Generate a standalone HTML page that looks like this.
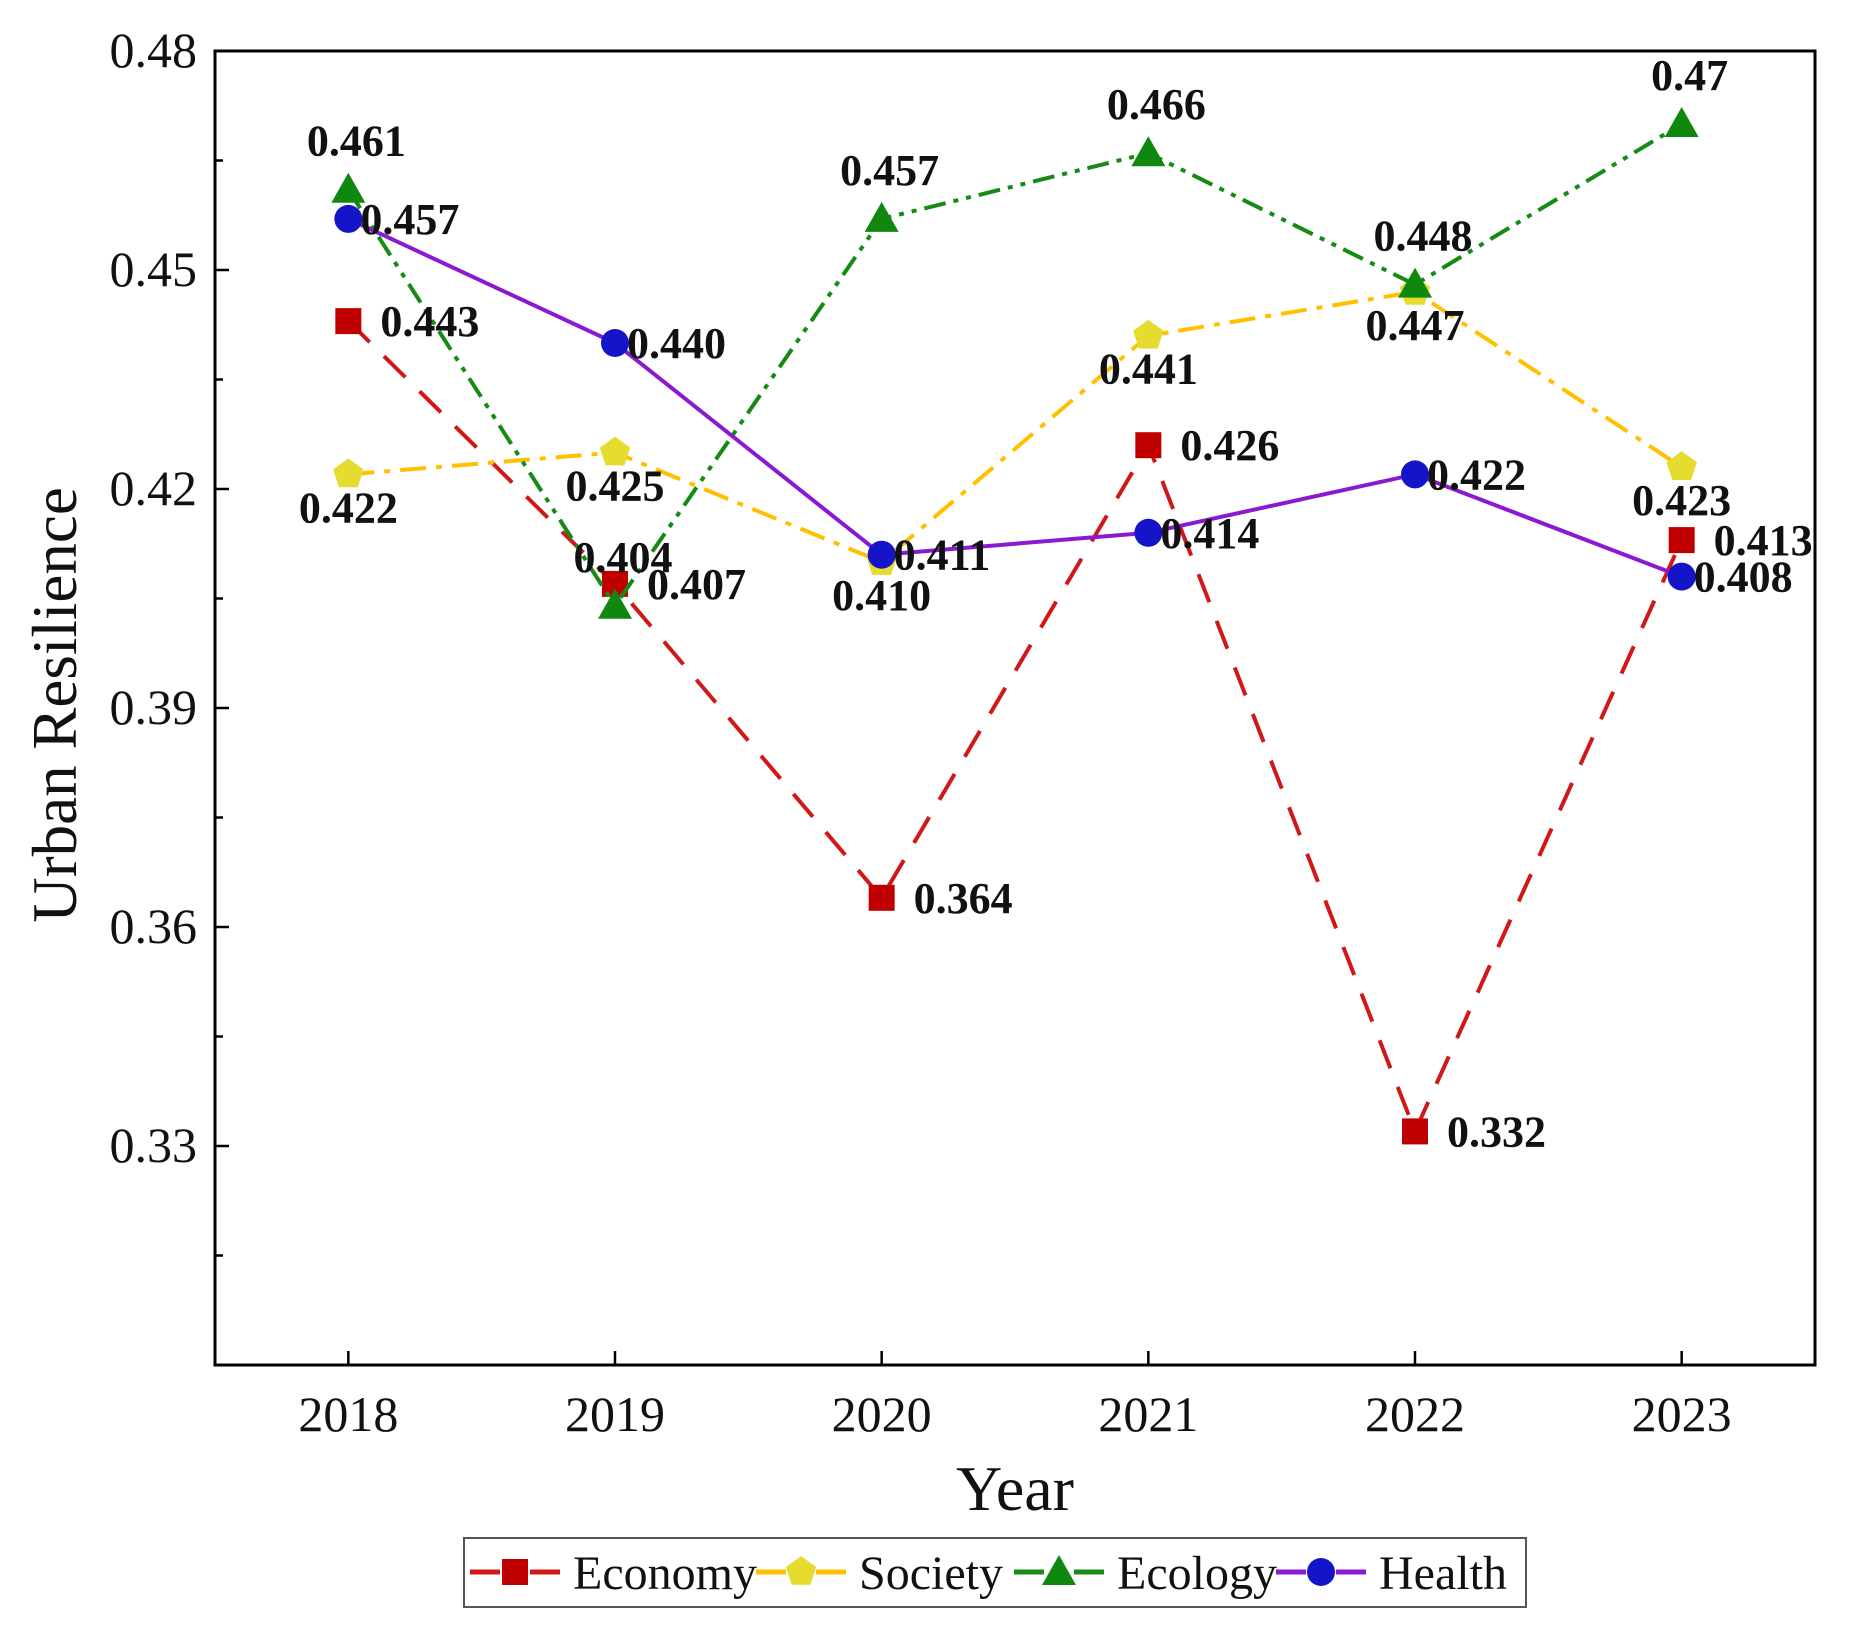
<!DOCTYPE html>
<html><head><meta charset="utf-8"><style>
html,body{margin:0;padding:0;background:#fff;}
svg{display:block;font-family:"Liberation Serif",serif;}
</style></head><body>
<svg id="chart" width="1864" height="1642" viewBox="0 0 1864 1642" xmlns="http://www.w3.org/2000/svg"></svg>
<script>
const years = ["2018","2019","2020","2021","2022","2023"];
const economy = [0.443,0.407,0.364,0.426,0.332,0.413];
const society = [0.422,0.425,0.410,0.441,0.447,0.423];
const ecology = [0.461,0.404,0.457,0.466,0.448,0.47];
const health = [0.457,0.440,0.411,0.414,0.422,0.408];
const economyLabels = ["0.443","0.407","0.364","0.426","0.332","0.413"];
const societyLabels = ["0.422","0.425","0.410","0.441","0.447","0.423"];
const ecologyLabels = ["0.461","0.404","0.457","0.466","0.448","0.47"];
const healthLabels = ["0.457","0.440","0.411","0.414","0.422","0.408"];
const yTicks = [0.33,0.36,0.39,0.42,0.45,0.48];
const yTickLabels = ["0.33","0.36","0.39","0.42","0.45","0.48"];

const svg = document.getElementById('chart');
const NS = 'http://www.w3.org/2000/svg';
const L=215, R=1815, T=51, B=1365;
const yMin=0.30, yMax=0.48;
function xs(i){ return L + (i+0.5)*(R-L)/years.length; }
function ys(v){ return B - (v-yMin)/(yMax-yMin)*(B-T); }
function mk(tag, attrs, parent){ const e=document.createElementNS(NS,tag); for(const k in attrs) e.setAttribute(k,attrs[k]); (parent||svg).appendChild(e); return e; }

const frame = mk('rect',{x:L,y:T,width:R-L,height:B-T,fill:'none',stroke:'#000','stroke-width':3});



for(let v=0.315; v<0.48; v+=0.015){
  const major = Math.abs(((v-0.33)/0.03) - Math.round((v-0.33)/0.03))<0.01;
  const t = mk('line',{x1:L,x2:L+(major?14:8),y1:ys(v),y2:ys(v),stroke:'#000','stroke-width':2.5});
  
  
}
yTicks.forEach((v,i)=>{
  const t = mk('text',{x:L-18,y:ys(v)+16,'text-anchor':'end','font-size':50,fill:'#111'});
  t.textContent = yTickLabels[i];
  
  
});
years.forEach((yr,i)=>{
  const t = mk('line',{x1:xs(i),x2:xs(i),y1:B,y2:B-14,stroke:'#000','stroke-width':2.5});
  
  
  const l = mk('text',{x:xs(i),y:B+66,'text-anchor':'middle','font-size':50,fill:'#111'});
  l.textContent = yr;
  
  
});
const yt = mk('text',{x:0,y:0,transform:`translate(76,705) rotate(-90)`,'text-anchor':'middle','font-size':63,fill:'#111'});
yt.textContent='Urban Resilience';


const xt = mk('text',{x:1015,y:1510,'text-anchor':'middle','font-size':64,fill:'#111'});
xt.textContent='Year';



function marker(type,cx,cy,color,parent){
  let e;
  if(type==='square') e=mk('rect',{x:cx-13,y:cy-13,width:26,height:26,fill:color},parent);
  else if(type==='circle') e=mk('circle',{cx:cx,cy:cy,r:14,fill:color},parent);
  else if(type==='triangle') e=mk('polygon',{points:`${cx},${cy-17} ${cx+17},${cy+13} ${cx-17},${cy+13}`,fill:color},parent);
  else { let p=[]; for(let k=0;k<5;k++){const a=-Math.PI/2+k*2*Math.PI/5; p.push((cx+16*Math.cos(a)).toFixed(1)+','+(cy+16*Math.sin(a)).toFixed(1));} e=mk('polygon',{points:p.join(' '),fill:color},parent); }
  return e;
}

const series = [
  {name:'economy',vals:economy,labels:economyLabels,line:'#d01818',mark:'#c00000',type:'square',dash:'30 20',pos:'right'},
  {name:'society',vals:society,labels:societyLabels,line:'#ffc000',mark:'#e6dc30',type:'pentagon',dash:'26 10 6 10',pos:'below'},
  {name:'ecology',vals:ecology,labels:ecologyLabels,line:'#158a15',mark:'#108810',type:'triangle',dash:'22 8 5 8 5 8',pos:'above'},
  {name:'health',vals:health,labels:healthLabels,line:'#8a1ad0',mark:'#1414c8',type:'circle',dash:'',pos:'right2'}
];
series.forEach(s=>{
  const g = mk('g',{});
  
  
  const pts = s.vals.map((v,i)=>xs(i)+','+ys(v)).join(' ');
  const pl = mk('polyline',{points:pts,fill:'none',stroke:s.line,'stroke-width':4,'stroke-dasharray':s.dash},g);
  
  
  s.vals.forEach((v,i)=>{
    const m = marker(s.type,xs(i),ys(v),s.mark,g);
    
    
  });
});
series.forEach(s=>{
  s.vals.forEach((v,i)=>{
    let x=xs(i), y=ys(v), a='start';
    if(s.pos==='right'){x+=32;y+=15;}
    else if(s.pos==='right2'){x+=12;y+=15;}
    else if(s.pos==='below'){a='middle';y+=48;}
    else {a='middle';x+=8;y-=34;}
    const t = mk('text',{x:x,y:y,'text-anchor':a,'font-size':44,'font-weight':'bold',fill:'#111'});
    t.textContent = s.labels[i];
    
    
  });
});

const lg = mk('g',{});


const lb = mk('rect',{x:464,y:1538,width:1062,height:69,fill:'#fff',stroke:'#555','stroke-width':2},lg);


const legendNames=['Economy','Society','Ecology','Health'];
const legendX=[470,756,1014,1276];
series.forEach((s,i)=>{
  const e = mk('g',{},lg);
  
  
  const x0=legendX[i], cy=1572;
  mk('line',{x1:x0,x2:x0+30,y1:cy,y2:cy,stroke:s.line,'stroke-width':5},e);
  mk('line',{x1:x0+60,x2:x0+90,y1:cy,y2:cy,stroke:s.line,'stroke-width':5},e);
  marker(s.type,x0+45,cy,s.mark,e);
  const t = mk('text',{x:x0+103,y:cy+17,'font-size':48,fill:'#111'},e);
  t.textContent = legendNames[i];
});
</script>
</body></html>
